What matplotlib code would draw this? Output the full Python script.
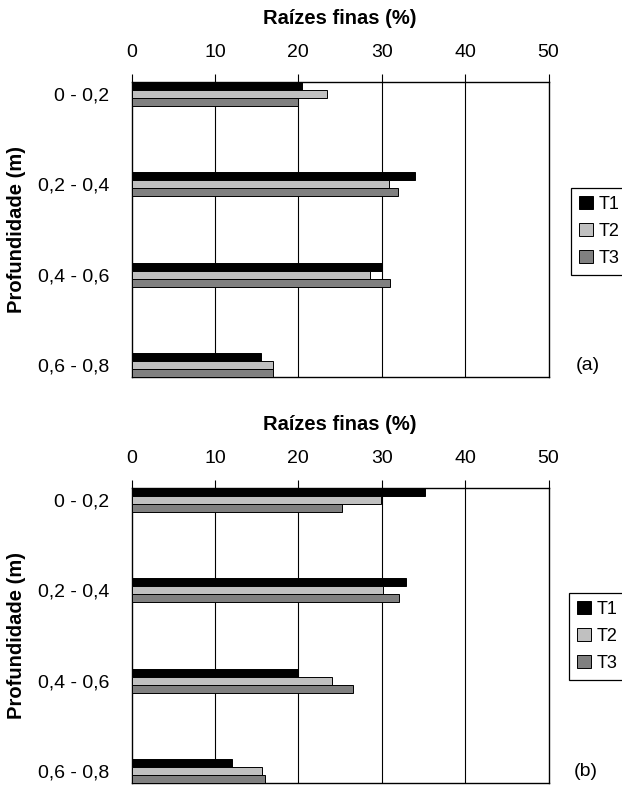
import matplotlib
matplotlib.use("Agg")
import matplotlib.pyplot as plt
import numpy as np

plt.rcParams['font.family'] = ['Liberation Sans', 'DejaVu Sans']

depths = ["0 - 0,2", "0,2 - 0,4", "0,4 - 0,6", "0,6 - 0,8"]
treatments = ["T1", "T2", "T3"]
colors = ["#000000", "#c0c0c0", "#808080"]
x_ticks = [0, 10, 20, 30, 40, 50]

# fine-root share (%) per depth layer, panel (a)
a_t1 = [20.5, 34.0, 30.0, 15.5]
a_t2 = [23.5, 30.9, 28.6, 17.0]
a_t3 = [20.0, 32.0, 31.0, 17.0]

# fine-root share (%) per depth layer, panel (b)
b_t1 = [35.2, 32.9, 20.0, 12.0]
b_t2 = [29.9, 30.2, 24.0, 15.6]
b_t3 = [25.2, 32.1, 26.6, 16.0]

W, H = 622, 787
fig = plt.figure(figsize=(W / 100, H / 100), dpi=100)

def fx(px):
    return px / W

def fy(py):
    return 1 - py / H

def panel(top_px, series, tag, tag_xy, legend_xy):
    left, right, height = 131.5, 548.5, 295
    ax = fig.add_axes([fx(left), fy(top_px + height), (right - left) / W, height / H])
    h = 0.0886
    pos = np.arange(len(depths))
    bars = []
    for k, (vals, c, name) in enumerate(zip(series, colors, treatments)):
        b = ax.barh(pos + (k - 1) * h, vals, height=h, color=c,
                    edgecolor="black", linewidth=0.7, label=name, zorder=3)
        bars.append(b)
    ax.set_xlim(0, 50)
    ax.set_ylim(len(depths) - 1 + 1.5 * h, -1.5 * h)
    ax.set_xticks(x_ticks)
    ax.xaxis.tick_top()
    ax.tick_params(axis="x", direction="out", length=6, width=0.8,
                   pad=9, labelsize=14, colors="black")
    ax.set_yticks(pos)
    ax.set_yticklabels(depths)
    ax.tick_params(axis="y", length=0, pad=16, labelsize=14)
    for x in x_ticks[1:-1]:
        ax.axvline(x, color="black", linewidth=0.8, zorder=1)
    for s in ax.spines.values():
        s.set_color("black")
        s.set_linewidth(1.0)
    fig.text(fx((left + right) / 2), fy(top_px - 63), "Raízes finas (%)",
             ha="center", va="center", fontsize=14.5, fontweight="bold")
    fig.text(fx(17), fy(top_px + height / 2), "Profundidade (m)",
             ha="center", va="center", rotation=90, fontsize=14.5,
             fontweight="bold")
    fig.text(fx(tag_xy[0]), fy(tag_xy[1]), tag, ha="center", va="center",
             fontsize=14)
    leg = ax.legend(loc="upper left",
                    bbox_to_anchor=(fx(legend_xy[0]), fy(legend_xy[1])),
                    bbox_transform=fig.transFigure, borderaxespad=0,
                    fontsize=13, frameon=True, fancybox=False,
                    edgecolor="black", framealpha=1, handlelength=0.75,
                    handleheight=0.75, handletextpad=0.35, labelspacing=0.55,
                    borderpad=0.45)
    leg.get_frame().set_linewidth(0.9)
    return ax

panel(82, [a_t1, a_t2, a_t3], "(a)", (588, 365), (571, 188))
panel(488, [b_t1, b_t2, b_t3], "(b)", (586, 772), (569, 593))

fig.savefig("out.png", dpi=100)
